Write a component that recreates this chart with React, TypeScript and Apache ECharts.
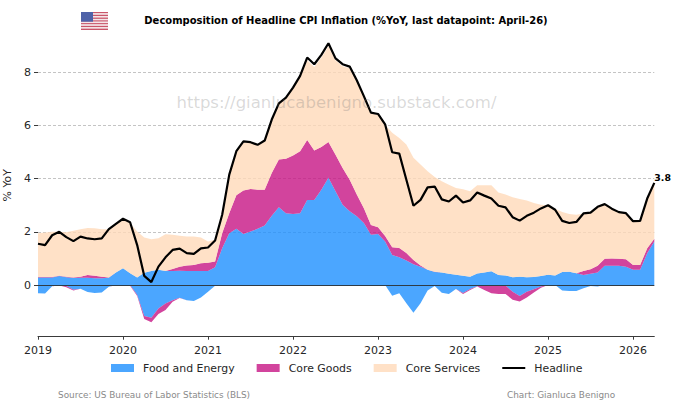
import React, { useEffect, useRef } from "react";
import * as echarts from "echarts";

const years = [2019, 2020, 2021, 2022, 2023, 2024, 2025, 2026];
const monthCount = 88;
const months: string[] = [];
for (let i = 0; i < monthCount; i++) {
  months.push(`${years[Math.floor(i / 12)]}-${String((i % 12) + 1).padStart(2, "0")}`);
}

const headline = [
  1.55, 1.5, 1.87, 2.0, 1.8, 1.65, 1.82, 1.75, 1.72, 1.75, 2.1, 2.3,
  2.49, 2.36, 1.5, 0.34, 0.11, 0.69, 1.04, 1.32, 1.37, 1.2, 1.17, 1.38,
  1.41, 1.67, 2.64, 4.15, 5.03, 5.4, 5.37, 5.27, 5.43, 6.22, 6.83, 7.04,
  7.42, 7.86, 8.55, 8.3, 8.65, 9.09, 8.52, 8.3, 8.21, 7.7, 7.1, 6.48,
  6.43, 6.04, 4.99, 4.94, 3.96, 2.98, 3.2, 3.67, 3.7, 3.22, 3.14, 3.36,
  3.1, 3.18, 3.48, 3.36, 3.25, 2.98, 2.92, 2.55, 2.42, 2.6, 2.72, 2.88,
  3.0, 2.83, 2.41, 2.33, 2.37, 2.69, 2.72, 2.94, 3.04, 2.87, 2.74, 2.7,
  2.4, 2.41, 3.25, 3.84,
];

const foodEnergyPos = [
  0.28, 0.28, 0.28, 0.34, 0.29, 0.26, 0.27, 0.27, 0.25, 0.25, 0.27, 0.47,
  0.63, 0.44, 0.28, 0.46, 0.53, 0.57, 0.53, 0.53, 0.54, 0.53, 0.53, 0.53,
  0.53, 0.67, 1.38, 1.95, 2.11, 1.92, 2.01, 2.11, 2.24, 2.6, 2.92, 2.7,
  2.67, 2.7, 3.2, 3.2, 3.58, 4.03, 3.52, 3.02, 2.77, 2.58, 2.33, 1.89,
  1.92, 1.64, 1.13, 1.04, 0.92, 0.78, 0.69, 0.57, 0.49, 0.47, 0.42, 0.39,
  0.35, 0.31, 0.43, 0.47, 0.52, 0.38, 0.36, 0.29, 0.31, 0.29, 0.3, 0.34,
  0.39, 0.36, 0.49, 0.5, 0.44, 0.38, 0.42, 0.47, 0.72, 0.72, 0.72, 0.69,
  0.57, 0.57, 1.19, 1.64,
];

const foodEnergyNeg = [
  -0.31, -0.32, -0.05, 0, -0.04, -0.18, -0.14, -0.26, -0.3, -0.28, -0.07, 0,
  0, 0, -0.38, -1.17, -1.23, -0.88, -0.7, -0.57, -0.48, -0.57, -0.6, -0.47,
  -0.25, -0.03, 0, 0, 0, 0, 0, 0, 0, 0, 0, 0,
  0, 0, 0, 0, 0, 0, 0, 0, 0, 0, 0, 0,
  0, 0, -0.4, -0.31, -0.69, -1.04, -0.69, -0.21, -0.04, -0.29, -0.34, -0.15,
  -0.3, -0.15, -0.05, -0.02, 0, 0, -0.02, -0.25, -0.41, -0.25, -0.16, -0.06,
  0, 0, -0.21, -0.23, -0.23, -0.12, -0.04, -0.06, 0, 0, 0, 0,
  0, 0, 0, 0,
];

const coreGoodsPos = [
  0.02, 0.02, 0.02, 0.01, 0.02, 0.02, 0.04, 0.11, 0.1, 0.06, 0.01, 0,
  0, 0, 0, 0, 0, 0, 0, 0.07, 0.15, 0.2, 0.22, 0.29,
  0.31, 0.21, 0.57, 0.75, 1.26, 1.63, 1.6, 1.47, 1.34, 1.61, 1.8, 2.05,
  2.2, 2.33, 2.25, 1.86, 1.61, 1.35, 1.38, 1.38, 1.19, 0.82, 0.56, 0.37,
  0.25, 0.2, 0.29, 0.35, 0.28, 0.16, 0.04, 0, 0.01, 0, 0, 0,
  0, 0, 0, 0, 0, 0, 0, 0, 0, 0, 0, 0,
  0, 0, 0, 0, 0, 0.15, 0.17, 0.25, 0.27, 0.28, 0.27, 0.28,
  0.18, 0.18, 0.19, 0.1,
];

const coreGoodsNeg = [
  0, 0, 0, -0.02, -0.04, -0.03, 0, 0, 0, 0, 0, -0.01,
  -0.02, -0.03, -0.03, -0.11, -0.17, -0.21, -0.24, -0.06, -0.01, 0, 0, 0,
  0, 0, 0, 0, 0, 0, 0, 0, 0, 0, 0, 0,
  0, 0, 0, 0, 0, 0, 0, 0, 0, 0, 0, 0,
  0, 0, 0, 0, 0, 0, 0, 0, 0, 0, 0, 0,
  -0.04, -0.04, -0.01, -0.17, -0.31, -0.34, -0.32, -0.3, -0.21, -0.22, -0.12, -0.04,
  0, 0, 0, 0, 0, 0, 0, 0, 0, 0, 0, 0,
  0, 0, 0, 0,
];

const coreServices = [
  1.65, 1.67, 1.7, 1.65, 1.67, 1.76, 1.79, 1.76, 1.78, 1.79, 1.82, 1.79,
  1.86, 1.89, 1.73, 1.33, 1.19, 1.19, 1.38, 1.29, 1.16, 1.09, 1.07, 0.97,
  0.8, 0.82, 0.65, 1.42, 1.63, 1.82, 1.74, 1.67, 1.82, 1.99, 2.08, 2.25,
  2.53, 2.8, 3.0, 3.14, 3.36, 3.6, 3.55, 3.82, 4.19, 4.25, 4.19, 4.19,
  4.23, 4.18, 4.3, 4.14, 4.08, 3.84, 3.8, 3.71, 3.56, 3.43, 3.35, 3.26,
  3.25, 3.21, 3.32, 3.28, 3.23, 3.1, 3.04, 3.01, 2.92, 2.89, 2.78, 2.68,
  2.61, 2.51, 2.25, 2.17, 2.2, 2.16, 2.14, 2.22, 2.05, 1.87, 1.75, 1.73,
  1.65, 1.66, 1.87, 2.1,
];

const yTicks = [0, 2, 4, 6, 8];
const legendNames = ["Food and Energy", "Core Goods", "Core Services", "Headline"];

const FONT = "DejaVu Sans";
const BLUE = "rgba(30,144,255,0.8)";
const MAGENTA = "rgba(199,21,133,0.8)";
const PEACH = "rgba(255,218,185,0.8)";
const INK = "#262626";

function areaSeries(name: string, stack: string, data: number[], color: string) {
  return {
    name,
    type: "line",
    stack,
    data,
    symbol: "none",
    showSymbol: false,
    lineStyle: { width: 0, color },
    itemStyle: { color },
    areaStyle: { color, opacity: 1 },
    z: 2,
  };
}

function flagRects() {
  const out: any[] = [];
  const x = 81, y = 12, w = 27, h = 18, n = 13;
  for (let i = 0; i < n; i++) {
    out.push({
      type: "rect",
      shape: { x, y: y + (i * h) / n, width: w, height: h / n },
      style: { fill: i % 2 === 0 ? "#c9566a" : "#f4e6e8" },
    });
  }
  out.push({
    type: "rect",
    shape: { x, y, width: 12, height: (7 * h) / n },
    style: { fill: "#4f62a8" },
  });
  return out;
}

export default function App() {
  const ref = useRef<HTMLDivElement>(null);

  useEffect(() => {
    const chart = echarts.init(ref.current!, undefined, { renderer: "svg" });
    chart.setOption({
      animation: false,
      backgroundColor: "#ffffff",
      grid: { left: 38, right: 25.7, top: 32.3, height: 305.9, containLabel: false, outerBoundsMode: "none" },
      legend: {
        left: 111,
        top: 362.5,
        padding: 0,
        itemGap: 22,
        itemWidth: 23,
        itemHeight: 8,
        data: [
          { name: legendNames[0], icon: "rect" },
          { name: legendNames[1], icon: "rect" },
          { name: legendNames[2], icon: "rect" },
          { name: legendNames[3], icon: "path://M0 0L23 0L23 0ZM0 3H23V5H0ZM0 8L23 8L23 8Z", itemStyle: { color: "#000000", borderWidth: 0 } },
        ],
        textStyle: { fontFamily: FONT, fontSize: 10.9, color: INK, padding: [0, 0, 0, 4] },
      },
      xAxis: {
        type: "category",
        data: months,
        boundaryGap: false,
        offset: -2,
        axisLine: { show: true, onZero: false, lineStyle: { color: "#3a3a3a", width: 1 } },
        axisTick: {
          show: true,
          length: 3.5,
          interval: (i: number) => i % 12 === 0,
          lineStyle: { color: "#3a3a3a", width: 1 },
        },
        axisLabel: {
          show: true,
          interval: (i: number) => i % 12 === 0,
          formatter: (v: string) => v.slice(0, 4),
          fontFamily: FONT,
          fontSize: 11,
          color: INK,
          margin: 9,
        },
        splitLine: { show: false },
      },
      yAxis: {
        type: "value",
        min: -2,
        max: 9.5,
        interval: 2,
        name: "% YoY",
        nameLocation: "middle",
        nameGap: 14,
        nameTextStyle: { fontFamily: FONT, fontSize: 10.9, color: INK },
        axisLine: { show: false },
        axisTick: {
          show: true,
          length: 4,
          customValues: yTicks,
          lineStyle: { color: "#3a3a3a", width: 1 },
        },
        axisLabel: {
          show: true,
          customValues: yTicks,
          fontFamily: FONT,
          fontSize: 11,
          color: INK,
          margin: 7,
        },
        splitLine: {
          show: true,
          lineStyle: { color: "#c4c4c4", type: [3, 2], width: 1 },
        },
      },
      series: [
        areaSeries(legendNames[0], "pos", foodEnergyPos, BLUE),
        areaSeries(legendNames[1], "pos", coreGoodsPos, MAGENTA),
        areaSeries(legendNames[2], "pos", coreServices, PEACH),
        areaSeries(legendNames[0], "neg", foodEnergyNeg, BLUE),
        areaSeries(legendNames[1], "neg", coreGoodsNeg, MAGENTA),
        {
          name: legendNames[3],
          type: "line",
          data: headline,
          symbol: "none",
          showSymbol: false,
          z: 5,
          lineStyle: { color: "#000000", width: 2.2 },
          itemStyle: { color: "#000000" },
          endLabel: {
            show: true,
            formatter: (p: any) => Number(p.value).toFixed(1),
            fontFamily: FONT,
            fontSize: 9.4,
            fontWeight: "bold",
            color: "#000000",
            position: "right",
            distance: 0,
            offset: [0, -5],
          },
          markLine: {
            silent: true,
            symbol: "none",
            label: { show: false },
            animation: false,
            lineStyle: { color: "#2f3b45", width: 1, type: "solid" },
            data: [{ yAxis: 0 }],
          },
        },
      ],
      graphic: [
        ...flagRects(),
        {
          type: "text",
          x: 346,
          y: 20,
          style: {
            text: "Decomposition of Headline CPI Inflation (%YoY, last datapoint: April-26)",
            fontFamily: FONT,
            fontSize: 9.97,
            fontWeight: "bold",
            fill: "#000000",
            align: "center",
            verticalAlign: "middle",
          },
        },
        {
          type: "text",
          x: 336.5,
          y: 102,
          z: 50,
          style: {
            text: "https://gianlucabenigno.substack.com/",
            fontFamily: FONT,
            fontSize: 16.5,
            fill: "rgba(120,120,120,0.28)",
            align: "center",
            verticalAlign: "middle",
          },
        },
        {
          type: "text",
          x: 58,
          y: 395,
          style: {
            text: "Source: US Bureau of Labor Statistics (BLS)",
            fontFamily: FONT,
            fontSize: 8.9,
            fill: "#8a8a8a",
            align: "left",
            verticalAlign: "middle",
          },
        },
        {
          type: "text",
          x: 507,
          y: 395,
          style: {
            text: "Chart: Gianluca Benigno",
            fontFamily: FONT,
            fontSize: 8.9,
            fill: "#8a8a8a",
            align: "left",
            verticalAlign: "middle",
          },
        },
      ],
    });
    return () => chart.dispose();
  }, []);

  return (
    <div
      ref={ref}
      style={{ position: "absolute", left: 0, top: 0, width: 680, height: 408 }}
    />
  );
}
